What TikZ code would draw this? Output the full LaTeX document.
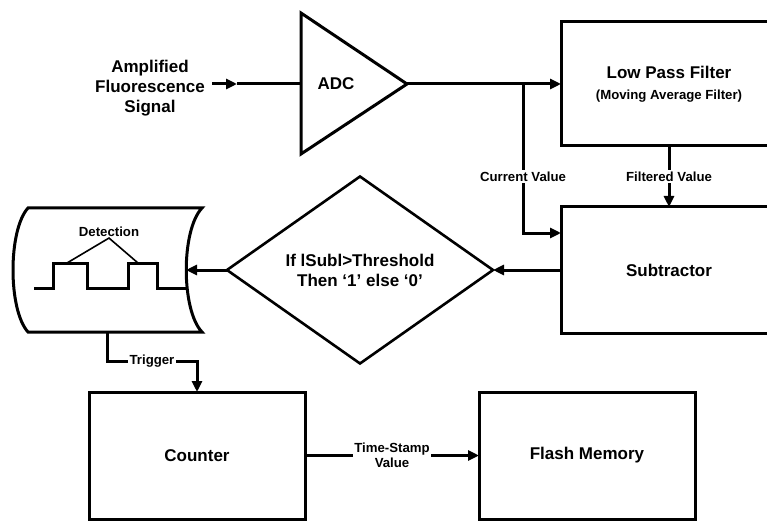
\documentclass[tikz,border=0pt]{standalone}
\usepackage{fontspec}
\setmainfont{Liberation Sans}
\usetikzlibrary{arrows.meta, positioning, shapes.geometric, calc}
\newcommand{\fontBig}{\fontsize{17}{20}\selectfont\bfseries}
\newcommand{\fontSmall}{\fontsize{13.2}{15}\selectfont\bfseries}
\tikzset{
  arrowK/.style={-{Triangle[length=11pt, width=10pt]}, line width=3pt},
  lineK/.style={line width=3pt, line join=miter},
  blockBox/.style={rectangle, draw, line width=3pt, align=center, font=\fontBig,
                   minimum width=216pt, inner sep=0pt, outer sep=0pt},
  decideBox/.style={diamond, draw, line width=2.6pt, align=center, font=\fontBig,
                    minimum width=266pt, minimum height=187pt, inner sep=0pt, outer sep=0pt},
  lblK/.style={fill=white, font=\fontSmall, align=center, inner sep=1.5pt},
}

\begin{document}
\begin{tikzpicture}[x=1pt, y=-1pt, node distance=61pt and 174pt]
    \clip[use as bounding box] (0,0) rectangle (767,521);
    %% Entrada + ADC
    \node[font=\fontBig, align=center, inner sep=7pt] (sig) at (150,88) {Amplified\\Fluorescence\\Signal};
    \draw[lineK] (301,13) -- (407,84) -- (301,154) -- cycle;
    \node[font=\fontBig] (adc) at (336,84) {ADC};
    \coordinate (adcIn) at (301,84);
    \coordinate (adcOut) at (407,84);
    \coordinate (sigTip) at (237,84);
    \draw[arrowK] (sig.east |- adcIn) -- (sigTip); \draw[lineK] (sigTip) -- (adcIn);

    %% Filtro y restador
    \node[blockBox, minimum height=124pt] (lpf) at (669,84)
         {Low Pass Filter\\[1pt]{\fontSmall (Moving Average Filter)}};
    \node[blockBox, minimum height=126pt, below=61pt of lpf] (sub) {Subtractor};
    \coordinate (branch) at (523,84);
    \draw[arrowK] (adcOut) -- (lpf.west);
    \draw[arrowK] (branch) |- node[lblK, pos=0.31] {Current Value} ($(sub.west)+(0,-37)$);
    \draw[arrowK] (lpf.south) -- node[lblK] {Filtered Value} (sub.north);

    %% Comparador
    \node[decideBox] (cmp) at (360,270) {If lSubl>Threshold\\Then `1' else `0'};
    \draw[arrowK] (sub.west) -- (cmp.east);

    %% Deteccion (display)
    \draw[lineK] (28,208) -- (202,208) .. controls (181,230) and (181,310) .. (202,332)
         -- (28,332) .. controls (8,310) and (8,230) .. cycle;
    \coordinate (dispIn) at (186,270);
    \coordinate (dispOut) at (107,332);
    \draw[arrowK] (cmp.west) -- (dispIn);
    \draw[lineK] (34,288) -- (53,288) -- (53,263) -- (87,263) -- (87,288) -- (128,288)
         -- (128,263) -- (157,263) -- (157,288) -- (186,288);
    \node[font=\fontSmall, inner sep=1pt] (det) at (109,232) {Detection};
    \draw[line width=1.6pt] (67,263) -- (det.south) -- (138,263);

    %% Contador + memoria
    \node[blockBox, minimum height=127pt] (cnt) at (197,455.5) {Counter};
    \node[blockBox, minimum height=127pt, right=174pt of cnt] (mem) {Flash Memory};
    \draw[arrowK] (dispOut) |- node[lblK, pos=0.75] {Trigger} ($(cnt.north)+(0,-31)$) -- (cnt.north);
    \draw[arrowK] (cnt.east) -- node[lblK] {Time-Stamp\\Value} (mem.west);
\end{tikzpicture}
\end{document}
